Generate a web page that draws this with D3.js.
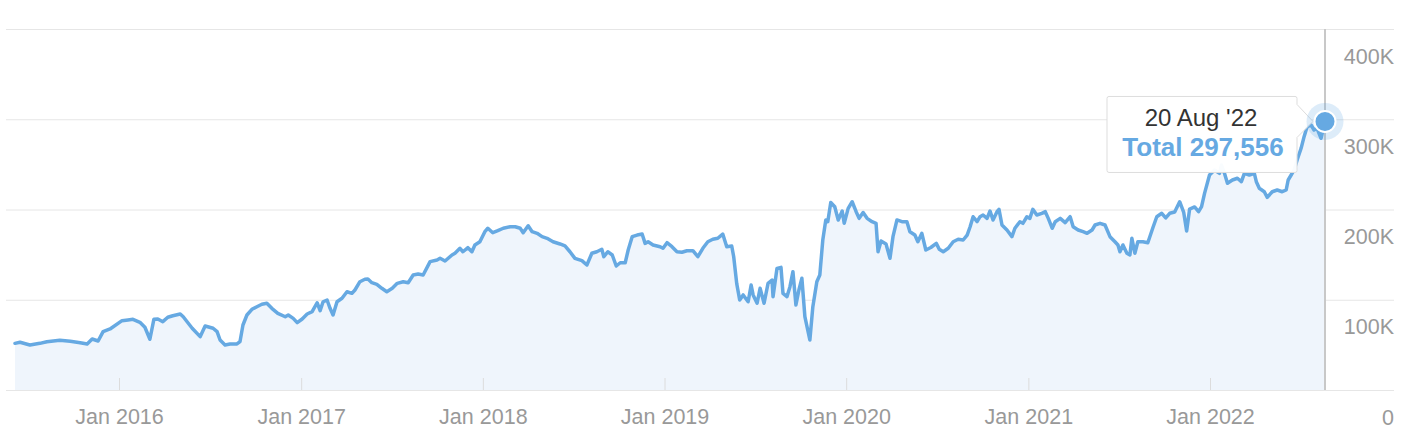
<!DOCTYPE html>
<html><head><meta charset="utf-8">
<script src="https://cdn.jsdelivr.net/npm/d3@7"></script>
<style>
html,body{margin:0;padding:0;background:#fff;overflow:hidden;}
svg{display:block;font-family:"Liberation Sans",Arial,Helvetica,sans-serif;}
</style></head><body>
<svg id="chart" width="1414" height="442"></svg>
<script>
// ---- data ----
const dates = [
"2015-06-06","2015-06-16","2015-07-06","2015-07-26","2015-08-09","2015-09-04","2015-09-25","2015-10-15","2015-10-29","2015-11-08","2015-11-20","2015-11-30","2015-12-14",
"2016-01-07","2016-01-19","2016-01-29","2016-02-12","2016-02-22","2016-03-03","2016-03-11","2016-03-19","2016-03-29","2016-04-08","2016-04-18","2016-05-03","2016-05-09","2016-05-27","2016-06-12","2016-06-22","2016-07-08","2016-07-16","2016-07-22","2016-08-01","2016-08-11","2016-08-25","2016-08-31","2016-09-06","2016-09-14","2016-09-24","2016-10-04","2016-10-14","2016-10-24","2016-11-03","2016-11-15","2016-11-30","2016-12-06","2016-12-16","2016-12-24",
"2017-01-03","2017-01-13","2017-01-23","2017-02-02","2017-02-08","2017-02-14","2017-02-22","2017-02-28","2017-03-06","2017-03-14","2017-03-24","2017-04-03","2017-04-13","2017-04-19","2017-04-29","2017-05-09","2017-05-15","2017-05-23","2017-06-02","2017-06-12","2017-06-22","2017-07-03","2017-07-13","2017-07-25","2017-08-04","2017-08-14","2017-08-24","2017-09-03","2017-09-17","2017-10-01","2017-10-07","2017-10-17","2017-10-31","2017-11-06","2017-11-16","2017-11-22","2017-12-02","2017-12-10","2017-12-16","2017-12-26",
"2018-01-05","2018-01-11","2018-01-21","2018-01-31","2018-02-11","2018-02-25","2018-03-07","2018-03-17","2018-03-23","2018-04-02","2018-04-10","2018-04-20","2018-04-30","2018-05-10","2018-05-22","2018-06-05","2018-06-15","2018-06-25","2018-07-05","2018-07-19","2018-07-29","2018-08-08","2018-08-18","2018-08-28","2018-09-01","2018-09-09","2018-09-18","2018-09-26","2018-10-04","2018-10-14","2018-10-20","2018-10-28","2018-11-07","2018-11-17","2018-11-23","2018-11-29","2018-12-09","2018-12-23","2018-12-29",
"2019-01-06","2019-01-16","2019-01-26","2019-02-05","2019-02-15","2019-02-27","2019-03-09","2019-03-19","2019-03-29","2019-04-08","2019-04-18","2019-04-28","2019-05-06","2019-05-16","2019-05-20","2019-05-26","2019-06-01","2019-06-08","2019-06-18","2019-06-24","2019-06-28","2019-07-06","2019-07-12","2019-07-20","2019-07-28","2019-08-05","2019-08-07","2019-08-15","2019-08-23","2019-08-27","2019-09-04","2019-09-10","2019-09-16","2019-09-22","2019-09-28","2019-10-04","2019-10-10","2019-10-20","2019-10-26","2019-11-03","2019-11-09","2019-11-15","2019-11-21","2019-11-25","2019-12-01","2019-12-09","2019-12-16","2019-12-24","2019-12-28",
"2020-01-05","2020-01-13","2020-01-21","2020-01-27","2020-02-04","2020-02-12","2020-02-22","2020-03-01","2020-03-05","2020-03-11","2020-03-21","2020-03-29","2020-04-04","2020-04-12","2020-04-22","2020-05-02","2020-05-08","2020-05-18","2020-05-24","2020-06-01","2020-06-09","2020-06-19","2020-06-30","2020-07-06","2020-07-14","2020-07-24","2020-08-03","2020-08-13","2020-08-23","2020-08-31","2020-09-06","2020-09-12","2020-09-20","2020-09-26","2020-10-02","2020-10-10","2020-10-16","2020-10-22","2020-10-30","2020-11-03","2020-11-09","2020-11-19","2020-11-29","2020-12-05","2020-12-15","2020-12-21","2020-12-29",
"2021-01-04","2021-01-10","2021-01-18","2021-01-28","2021-02-04","2021-02-10","2021-02-18","2021-02-24","2021-03-06","2021-03-16","2021-03-26","2021-04-01","2021-04-11","2021-04-21","2021-04-29","2021-05-09","2021-05-15","2021-05-25","2021-06-04","2021-06-14","2021-06-24","2021-06-30","2021-07-04","2021-07-10","2021-07-18","2021-07-24","2021-07-28","2021-08-03","2021-08-09","2021-08-19","2021-08-29","2021-09-08","2021-09-16","2021-09-26","2021-10-04","2021-10-12","2021-10-22","2021-11-01","2021-11-09","2021-11-15","2021-11-21","2021-12-01","2021-12-09","2021-12-15","2021-12-21","2021-12-31",
"2022-01-10","2022-01-20","2022-01-24","2022-01-30","2022-02-05","2022-02-15","2022-02-25","2022-03-05","2022-03-11","2022-03-21","2022-03-31","2022-04-04","2022-04-10","2022-04-20","2022-04-26","2022-05-06","2022-05-16","2022-05-26","2022-06-03","2022-06-07","2022-06-13","2022-06-19","2022-06-25","2022-07-03","2022-07-09","2022-07-15","2022-07-23","2022-07-29","2022-08-04","2022-08-12","2022-08-20"
];
const values = [
51700,52900,49900,51700,53500,55100,54000,52400,51000,56500,54300,64600,67600,
76800,77600,78300,75000,69500,56200,78300,78700,75700,80600,82300,84200,81200,68400,59100,70900,68400,64600,55400,49900,51000,51000,53500,72000,83100,89400,92300,95000,96100,90500,85000,81200,83100,79400,74600,
78700,84200,86800,96700,87900,97800,99700,90500,83100,97800,101600,108900,107100,110800,120000,122700,123000,118900,117100,112700,108900,112700,118200,120000,118900,127400,128500,127400,142200,144000,145900,142900,149600,151500,157000,153200,157700,153200,160700,164300,
175400,179200,174300,176500,179200,180900,180900,179200,174300,182000,175400,173600,169900,168100,164300,161800,159600,153200,145900,143300,138500,151500,153200,155900,147700,153200,149600,137400,141000,141000,155100,169900,171700,172800,162500,164300,160700,158800,157000,
163200,158800,153200,152600,154300,154300,147700,157000,164300,167000,168100,172800,158800,159600,147700,118200,99700,105300,97800,116300,105300,96100,112700,96100,118200,121900,103400,134800,135900,107100,103400,114500,131100,94200,110800,123800,81200,55400,92300,120000,127400,166200,188400,186500,207800,203100,188400,198300,184700,
201300,208600,197600,190200,196700,190200,186500,184700,153200,165100,161800,145900,169900,188400,186500,186500,175400,171700,164300,173600,155100,157900,162500,155900,153200,157000,164300,167000,166200,171700,180900,192000,186500,192000,193900,190200,198300,188400,197600,200200,182800,177300,169900,179200,186500,184700,192000,
190200,200200,193900,195800,197600,190200,179200,186500,190200,185400,192000,180900,177300,175400,173600,177300,182800,184700,182800,169900,164300,160700,153200,160700,151500,149600,168100,151500,164300,164300,163200,179500,192000,195800,190600,195800,197200,208600,197200,176200,200500,202800,197600,203100,217900,238200,
243800,240100,249300,240100,229000,232700,234600,230800,240100,238200,240100,230800,223500,219700,213500,219700,221600,219700,221600,232700,238200,243800,254800,267800,280700,291700,293600,288100,290000,278900,297556
];
const xTickYears = [2016,2017,2018,2019,2020,2021,2022];
const xTickLabels = ["Jan 2016","Jan 2017","Jan 2018","Jan 2019","Jan 2020","Jan 2021","Jan 2022"];
const yTickValues = [0,100000,200000,300000,400000];
const yTickLabels = ["0","100K","200K","300K","400K"];
const tooltipDate = "20 Aug '22";
const tooltipSeries = "Total";

// ---- chart ----
const parse = d3.utcParse("%Y-%m-%d");
const data = dates.map((d,i)=>({date:parse(d), value:values[i]}));
const svg = d3.select("#chart");
const BLUE = "#66a9e2";

const x = d3.scaleUtc().domain(d3.extent(data,d=>d.date)).range([15,1325]);
const y = d3.scaleLinear().domain([0,400000]).range([390,29]);

// horizontal grid + right labels
const gy = svg.append("g").attr("transform","translate(1394,0)")
  .call(d3.axisLeft(y).tickValues(yTickValues).tickSize(1388)
     .tickFormat((d,i)=>yTickLabels[i]));
gy.select(".domain").remove();
gy.selectAll(".tick line").attr("stroke","#e6e6e6").attr("stroke-width",1);
gy.selectAll(".tick text").attr("x",0).attr("y",34).attr("dy",null)
  .attr("text-anchor","end").attr("fill","#999").attr("font-size",21.5)
  .attr("font-family","'Liberation Sans',Arial,sans-serif");

// area
const area = d3.area().x(d=>x(d.date)).y0(y(0)).y1(d=>y(d.value));
svg.append("path").datum(data).attr("d",area).attr("fill","#eff5fc");

// bottom axis ticks + labels
const gx = svg.append("g").attr("transform",`translate(0,${y(0)})`)
  .call(d3.axisBottom(x).tickValues(xTickYears.map(yr=>new Date(Date.UTC(yr,0,1))))
     .tickSize(-12).tickFormat((d,i)=>xTickLabels[i]));
gx.select(".domain").remove();
gx.selectAll(".tick line").attr("stroke","#dcdcdc").attr("stroke-width",1);
gx.selectAll(".tick text").attr("y",34).attr("dy",null)
  .attr("fill","#999").attr("font-size",21.5)
  .attr("font-family","'Liberation Sans',Arial,sans-serif");

// crosshair
const last = data[data.length-1];
const px = x(last.date), py = y(last.value);
svg.append("line").attr("x1",px).attr("x2",px).attr("y1",y(400000)).attr("y2",y(0))
  .attr("stroke","#c8c8c8").attr("stroke-width",2);

// line
const line = d3.line().x(d=>x(d.date)).y(d=>y(d.value));
svg.append("path").datum(data).attr("d",line).attr("fill","none")
  .attr("stroke",BLUE).attr("stroke-width",3.5).attr("stroke-linejoin","round").attr("stroke-linecap","round");

// tooltip callout
const bx0 = px-218, bx1 = px-28, by0 = py-25, by1 = py+51;
const tip = svg.append("g");
tip.append("path")
  .attr("d",`M${bx0+2},${by0} H${bx1-2} Q${bx1},${by0} ${bx1},${by0+2} V${py-17} L${px-12},${py} L${bx1},${py+16} V${by1-2} Q${bx1},${by1} ${bx1-2},${by1} H${bx0+2} Q${bx0},${by1} ${bx0},${by1-2} V${by0+2} Q${bx0},${by0} ${bx0+2},${by0} Z`)
  .attr("fill","rgba(255,255,255,0.96)").attr("stroke","#dddddd").attr("stroke-width",1);
const cx = (bx0+bx1)/2 - 1;
tip.append("text").attr("x",cx).attr("y",py+4.5).attr("text-anchor","middle")
  .attr("font-size",24).attr("fill","#333").text(tooltipDate);
tip.append("text").attr("x",cx+2).attr("y",py+34.5).attr("text-anchor","middle")
  .attr("font-size",26).attr("font-weight","bold").attr("fill",BLUE)
  .text(`${tooltipSeries} ${d3.format(",")(last.value)}`);

// marker
svg.append("circle").attr("cx",px).attr("cy",py).attr("r",18.5).attr("fill",BLUE).attr("fill-opacity",0.22);
svg.append("circle").attr("cx",px).attr("cy",py).attr("r",10.5).attr("fill",BLUE)
  .attr("stroke","#fff").attr("stroke-width",2);
</script>
</body></html>
